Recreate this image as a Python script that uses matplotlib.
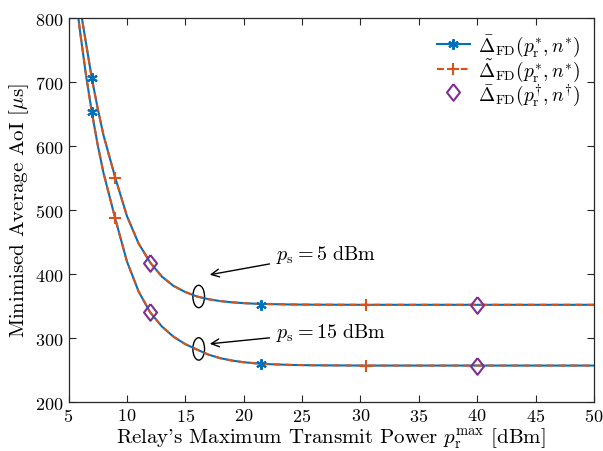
import matplotlib
matplotlib.use("Agg")
import matplotlib.pyplot as plt
from matplotlib.lines import Line2D
from matplotlib.patches import Ellipse

plt.rcParams['font.family'] = ['cmr10', 'DejaVu Serif']
plt.rcParams['mathtext.fontset'] = 'cm'
plt.rcParams['axes.formatter.use_mathtext'] = True

# curve samples (x in dBm, AoI in us)
x_ps5 = [5.5, 6.15, 6.5, 7, 7.5, 8, 9, 10, 11, 12, 13, 14, 15, 16, 17, 18, 19, 20, 21, 22, 24, 26, 30, 50]
aoi_ps5 = [897, 800, 761, 706, 659, 617, 551, 491, 448, 418, 396, 381.5, 372, 365, 360.7, 357.8,
           355.9, 354.6, 353.7, 353.2, 352.5, 352.2, 352, 352]
x_ps15 = [5.5, 5.8, 6, 6.5, 7, 7.5, 8, 9, 10, 11, 12, 13, 14, 15, 16, 17, 18, 19, 20, 21, 22, 24, 26, 30, 50]
aoi_ps15 = [855, 807, 778, 711, 653, 602, 558, 487, 420, 373, 340, 318, 302, 290.5, 282, 274, 268.5,
            264.8, 262.2, 260.5, 259.3, 258, 257.4, 257, 257]

# marker samples
star_x = [7, 21.5]
star_ps5 = [706, 352]
star_ps15 = [653, 259.5]
plus_x = [9, 30.5]
plus_ps5 = [551, 352]
plus_ps15 = [487, 257]
dia_x = [12, 40]
dia_ps5 = [418, 352]
dia_ps15 = [340, 257]

blue = '#0072BD'
orange = '#D95319'
purple = '#7E2F8E'
asterisk = (6, 2, 0)
diamond = [(0, 1), (0.78, 0), (0, -1), (-0.78, 0), (0, 1)]

fig = plt.figure(figsize=(6.03, 4.52), dpi=100)
ax = fig.add_axes([0.1136, 0.1084, 0.8714, 0.8489])

for xs, ys in [(x_ps5, aoi_ps5), (x_ps15, aoi_ps15)]:
    ax.plot(xs, ys, color=blue, lw=1.5, solid_capstyle='butt')
    ax.plot(xs, ys, color=orange, lw=1.5, dashes=(3.3, 2.4))

for ys in [star_ps5, star_ps15]:
    ax.plot(star_x, ys, ls='none', marker=asterisk, ms=7.5, mew=1.5, color=blue)
for ys in [plus_ps5, plus_ps15]:
    ax.plot(plus_x, ys, ls='none', marker='+', ms=9, mew=1.5, color=orange)
for ys in [dia_ps5, dia_ps15]:
    ax.plot(dia_x, ys, ls='none', marker=diamond, ms=12, mew=1.5, mfc='none', mec=purple)

# ellipses and annotations
ax.add_patch(Ellipse((16.15, 365), 1.0, 35, fill=False, ec='black', lw=1))
ax.add_patch(Ellipse((16.15, 283), 1.0, 35, fill=False, ec='black', lw=1))
ax.annotate(r'$p_{\mathrm{s}} = 5\ \mathrm{dBm}$', xy=(17.1, 399), xytext=(22.8, 432),
            fontsize=14.5, va='center', ha='left',
            arrowprops=dict(arrowstyle='->', color='black', lw=1, shrinkA=3, shrinkB=0,
                            mutation_scale=14))
ax.annotate(r'$p_{\mathrm{s}} = 15\ \mathrm{dBm}$', xy=(17.1, 291), xytext=(22.8, 310),
            fontsize=14.5, va='center', ha='left',
            arrowprops=dict(arrowstyle='->', color='black', lw=1, shrinkA=3, shrinkB=0,
                            mutation_scale=14))

handles = [
    Line2D([], [], color=blue, lw=1.5, marker=asterisk, ms=7.5, mew=1.5),
    Line2D([], [], color=orange, lw=1.5, dashes=(3.3, 2.4), marker='+', ms=9, mew=1.5),
    Line2D([], [], ls='none', marker=diamond, ms=12, mew=1.5, mfc='none', mec=purple),
]
labels = [
    r'$\bar{\Delta}_{\mathrm{FD}}(p_{\mathrm{r}}^{*}, n^{*})$',
    r'$\tilde{\Delta}_{\mathrm{FD}}(p_{\mathrm{r}}^{*}, n^{*})$',
    r'$\bar{\Delta}_{\mathrm{FD}}(p_{\mathrm{r}}^{\dagger}, n^{\dagger})$',
]
ax.legend(handles, labels, loc='upper right', frameon=False, fontsize=14,
          handlelength=1.7, handletextpad=0.4, labelspacing=-0.1,
          borderaxespad=0.45, borderpad=0.3)

ax.set_xlim(5, 50)
ax.set_ylim(200, 800)
ax.set_xticks(range(5, 51, 5))
ax.set_yticks(range(200, 801, 100))
ax.tick_params(direction='in', top=True, right=True, length=5, width=0.8,
               labelsize=13, colors='#262626', labelcolor='black')
for s in ax.spines.values():
    s.set_color('#262626')
    s.set_linewidth(0.9)

ax.set_xlabel(r"Relay's Maximum Transmit Power $p_{\mathrm{r}}^{\max}$ [dBm]", fontsize=15, labelpad=1)
ax.set_ylabel(r"Minimised Average AoI [$\mu$s]", fontsize=15, labelpad=3)

plt.savefig("out.png", dpi=100)
